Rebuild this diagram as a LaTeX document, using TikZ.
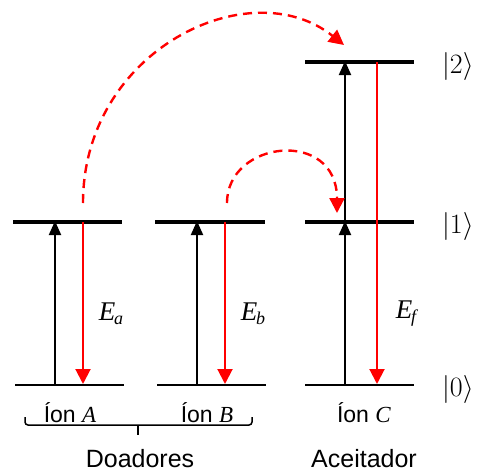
\RequirePackage{fix-cm}
\documentclass[tikz,border=0pt]{standalone}
\usepackage{fontspec}
\setmainfont{Liberation Serif}
\setsansfont{Liberation Sans}
\usetikzlibrary{arrows.meta}
\begin{document}
\begin{tikzpicture}[x=1pt,y=-1pt,
  lvlhi/.style={line width=3.8pt},
  lvllo/.style={line width=2.6pt},
  up/.style={line width=2pt,-{Triangle[length=14pt,width=12pt]}},
  down/.style={line width=2pt,red,-{Triangle[length=15pt,width=15pt]}},
  transfer/.style={line width=2.4pt,red,dash pattern=on 9pt off 6pt,-{Triangle[length=15pt,width=15pt]}},
  elabel/.style={font=\fontsize{27}{30}\selectfont\itshape},
  ket/.style={font=\fontsize{28}{32}\selectfont,anchor=west,inner sep=0pt},
  sans/.style={font=\fontsize{23}{28}\selectfont\sffamily},
  sansbig/.style={font=\fontsize{25}{30}\selectfont\sffamily}
]
\useasboundingbox (0,0) rectangle (480,472);
% level endpoints
\coordinate (A1l) at (13,222); \coordinate (A1r) at (122,222);
\coordinate (A0l) at (15,385); \coordinate (A0r) at (124,385);
\coordinate (B1l) at (155,222); \coordinate (B1r) at (265,222);
\coordinate (B0l) at (157,385); \coordinate (B0r) at (266,385);
\coordinate (C2l) at (305,62); \coordinate (C2r) at (414,62);
\coordinate (C1l) at (305,222); \coordinate (C1r) at (414,222);
\coordinate (C0l) at (305,385); \coordinate (C0r) at (414,385);
\draw[lvlhi] (A1l) -- (A1r);
\draw[lvlhi] (B1l) -- (B1r);
\draw[lvlhi] (C2l) -- (C2r);
\draw[lvlhi] (C1l) -- (C1r);
\draw[lvllo] (A0l) -- (A0r);
\draw[lvllo] (B0l) -- (B0r);
\draw[lvllo] (C0l) -- (C0r);
% arrow endpoints
\coordinate (Au0) at (55,384); \coordinate (Au1) at (55,221);
\coordinate (Ad1) at (83,222); \coordinate (Ad0) at (83,384);
\coordinate (Bu0) at (197,384); \coordinate (Bu1) at (197,221);
\coordinate (Bd1) at (225,222); \coordinate (Bd0) at (225,384);
\coordinate (Cu0) at (345,384); \coordinate (Cu1) at (345,221);
\coordinate (Cu1b) at (345,222); \coordinate (Cu2) at (345,61);
\coordinate (Cd2) at (377,62); \coordinate (Cd0) at (377,384);
\draw[up] (Au0) -- (Au1);
\draw[up] (Bu0) -- (Bu1);
\draw[up] (Cu0) -- (Cu1);
\draw[up] (Cu1b) -- (Cu2);
\draw[down] (Ad1) -- (Ad0);
\draw[down] (Bd1) -- (Bd0);
\draw[down] (Cd2) -- (Cd0);
% energy transfer
\coordinate (TA) at (83,203); \coordinate (TC2) at (344,45);
\coordinate (TB) at (227,203); \coordinate (TC1) at (337,213);
\draw[transfer] (TA) .. controls (83,50) and (250,-30) .. (TC2);
\draw[transfer] (TB) .. controls (227,140) and (337,128) .. (TC1);
% labels
\node[elabel] (Ea) at (111,314) {E\kern-1pt\raisebox{-4pt}{\fontsize{18}{20}\selectfont a}};
\node[elabel] (Eb) at (253,314) {E\kern-1pt\raisebox{-4pt}{\fontsize{18}{20}\selectfont b}};
\node[elabel] (Ef) at (406,314) {E\kern-1pt\raisebox{-4pt}{\fontsize{18}{20}\selectfont f}};
\node[ket] (k2) at (442,66) {$|2\rangle$};
\node[ket] (k1) at (442,226) {$|1\rangle$};
\node[ket] (k0) at (442,389) {$|0\rangle$};
\node[sans] (iA) at (70,413) {Íon \textrm{\itshape A}};
\node[sans] (iB) at (207,413) {Íon \textrm{\itshape B}};
\node[sans] (iC) at (364,413) {Íon \textrm{\itshape C}};
\node[sansbig] (don) at (140,459) {Doadores};
\node[sansbig] (acc) at (364,459) {Aceitador};
% brace
\coordinate (brl) at (25,417); \coordinate (brr) at (252,417);
\coordinate (brm) at (138,425); \coordinate (brt) at (138,435);
\draw[line width=1.5pt,rounded corners=3pt] (brl) -- (25,425) -- (brm) -- (252,425) -- (brr);
\draw[line width=1.5pt] (brm) -- (brt);
\end{tikzpicture}
\end{document}
